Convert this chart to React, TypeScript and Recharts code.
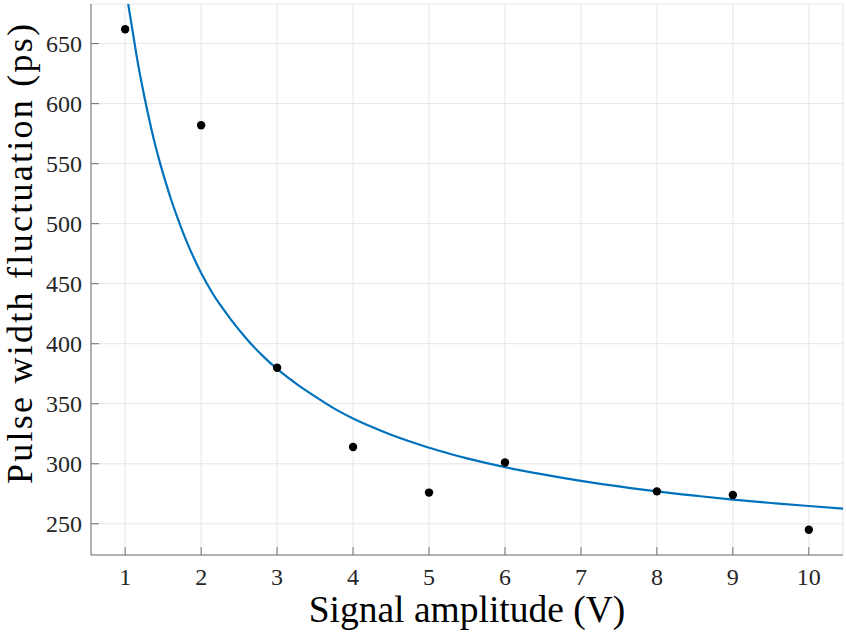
import React from "react";
import {
  CartesianGrid,
  ComposedChart,
  Line,
  Scatter,
  XAxis,
  YAxis,
} from "recharts";

// measured points
const amplitudes = [1, 2, 3, 4, 5, 6, 8, 9, 10];
const fluctuation = [662, 582, 380, 314, 276, 301, 277, 274, 245];

// fitted curve
const fitX = [
  1.04, 1.1, 1.15, 1.2, 1.25, 1.3, 1.35, 1.4, 1.45, 1.5, 1.6, 1.7, 1.8, 1.9,
  2.0, 2.15, 2.25, 2.4, 2.6, 2.8, 3.0, 3.15, 3.3, 3.6, 3.8, 4.0, 4.25, 4.5,
  4.75, 5.0, 5.25, 5.5, 6.0, 6.5, 7.0, 7.5, 8.0, 8.5, 9.0, 9.5, 10.0, 10.45,
];
const fitY = [
  683, 659.5, 640, 622.5, 606.5, 591.5, 577.5, 564.5, 552.5, 541.5, 521, 503, 486.5, 472,
  459, 442, 432.5, 419.5, 404, 390.5, 379, 371.5, 364.5, 352, 344.3, 337.8, 330.6, 324.2,
  318.5, 313.4, 308.8, 304.5, 297.2, 291.2, 285.8, 281.1, 277, 273.4, 270.2, 267.3, 264.8, 262.7,
];

const xTicks = [1, 2, 3, 4, 5, 6, 7, 8, 9, 10];
const yTicks = [250, 300, 350, 400, 450, 500, 550, 600, 650];

const points = amplitudes.map((x, i) => ({ x, y: fluctuation[i] }));
const fit = fitX.map((x, i) => ({ x, y: fitY[i] }));

const FONT = '"Liberation Serif", "Times New Roman", serif';
const AXIS = "#707070";
const TEXT = "#262626";
const TICK = 8;

function BottomTick({ x, y, payload }: any) {
  return (
    <g>
      <line x1={x} x2={x} y1={y} y2={y - TICK} stroke={AXIS} />
      <text x={x} y={y + 30} textAnchor="middle" fontSize={24} fontFamily={FONT} fill={TEXT}>
        {payload.value}
      </text>
    </g>
  );
}

function LeftTick({ x, y, payload }: any) {
  return (
    <g>
      <line x1={x} x2={x + TICK} y1={y} y2={y} stroke={AXIS} />
      <text x={x - 9} y={y} dy="0.34em" textAnchor="end" fontSize={24} fontFamily={FONT} fill={TEXT}>
        {payload.value}
      </text>
    </g>
  );
}

function TopTick({ x, y }: any) {
  return <line x1={x} x2={x} y1={y} y2={y + TICK} stroke={AXIS} />;
}

function RightTick({ x, y }: any) {
  return <line x1={x} x2={x - TICK} y1={y} y2={y} stroke={AXIS} />;
}

function Dot({ cx, cy }: any) {
  return <circle cx={cx} cy={cy} r={4.2} fill="#000" />;
}

export default function App() {
  return (
    <div style={{ position: "absolute", left: 0, top: 0, background: "#fff" }}>
      <ComposedChart
        width={846}
        height={635}
        margin={{ top: 4, right: 3, bottom: 0, left: 0 }}
      >
        <CartesianGrid stroke="#e6e6e6" strokeWidth={1} />
        <XAxis
          type="number"
          dataKey="x"
          domain={[0.55, 10.45]}
          ticks={xTicks}
          allowDataOverflow
          height={80}
          stroke={AXIS}
          tickLine={false}
          tickSize={0}
          tickMargin={0}
          tick={<BottomTick />}
          interval={0}
          label={{
            value: "Signal amplitude (V)",
            position: "insideBottom",
            offset: 13,
            fontSize: 37.5,
            fontFamily: FONT,
            fill: "#000",
          }}
        />
        <XAxis
          xAxisId="top"
          orientation="top"
          type="number"
          dataKey="x"
          domain={[0.55, 10.45]}
          ticks={xTicks}
          allowDataOverflow
          height={0}
          stroke={AXIS}
          tickLine={false}
          tickSize={0}
          tickMargin={0}
          tick={<TopTick />}
          interval={0}
        />
        <YAxis
          type="number"
          domain={[224, 683]}
          ticks={yTicks}
          allowDataOverflow
          width={91}
          stroke={AXIS}
          tickLine={false}
          tickSize={0}
          tickMargin={0}
          tick={<LeftTick />}
          interval={0}
          label={{
            content: () => (
              <text
                x={32}
                y={254}
                transform="rotate(-90, 32, 254)"
                textAnchor="middle"
                fontSize={36}
                textLength={460}
                lengthAdjust="spacing"
                fontFamily={FONT}
                fill="#000"
              >
                Pulse width fluctuation (ps)
              </text>
            ),
          }}
        />
        <YAxis
          yAxisId="right"
          orientation="right"
          type="number"
          domain={[224, 683]}
          ticks={yTicks}
          allowDataOverflow
          width={0}
          stroke={AXIS}
          tickLine={false}
          tickSize={0}
          tickMargin={0}
          tick={<RightTick />}
          interval={0}
        />
        <Line
          data={fit}
          dataKey="y"
          type="natural"
          stroke="#0072BD"
          strokeWidth={2.2}
          dot={false}
          isAnimationActive={false}
        />
        <Scatter
          data={points}
          dataKey="y"
          shape={<Dot />}
          isAnimationActive={false}
        />
      </ComposedChart>
    </div>
  );
}
